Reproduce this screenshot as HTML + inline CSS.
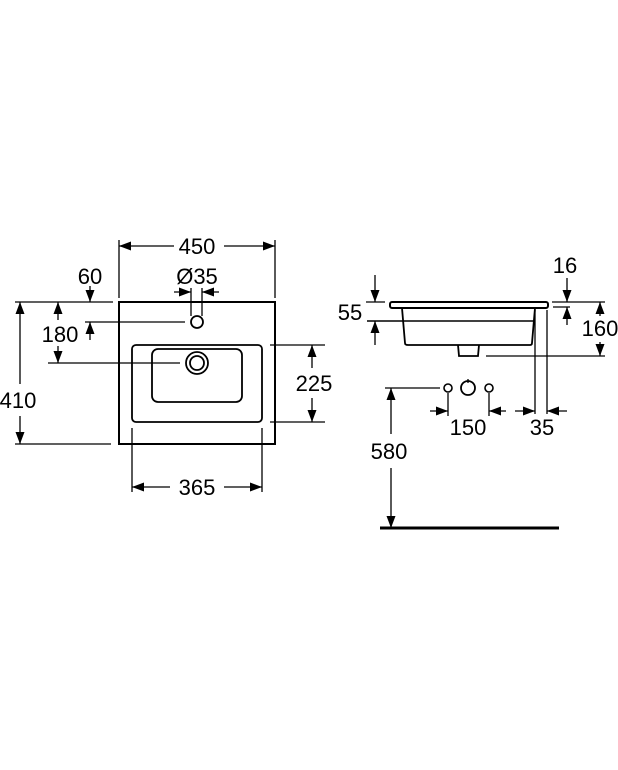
<!DOCTYPE html>
<html><head><meta charset="utf-8"><style>html,body{margin:0;padding:0;background:#fff}svg{display:block}</style></head>
<body>
<svg width="618" height="770" viewBox="0 0 618 770" xmlns="http://www.w3.org/2000/svg" font-family="Liberation Sans, sans-serif" font-size="22" text-anchor="middle">
<defs>
<marker id="a" markerWidth="12" markerHeight="9" refX="12" refY="4.5" orient="auto" markerUnits="userSpaceOnUse"><path d="M0,0 L12,4.5 L0,9 Z" fill="#000"/></marker>
</defs>
<g stroke="#000" fill="none" stroke-width="1.3">
<rect x="119" y="302" width="156" height="142" stroke-width="2"/>
<rect x="132" y="345" width="130" height="77" rx="4" stroke-width="1.8"/>
<rect x="152" y="349" width="90" height="53" rx="6" stroke-width="1.8"/>
<circle cx="197" cy="363" r="11" stroke-width="1.8"/>
<circle cx="197" cy="363" r="7" stroke-width="1.8"/>
<circle cx="197" cy="322" r="6" stroke-width="1.8"/>
<line x1="191" y1="288" x2="191" y2="316"/><line x1="202" y1="288" x2="202" y2="316"/>
<line x1="174" y1="292" x2="191" y2="292" marker-end="url(#a)"/>
<line x1="219" y1="292" x2="202" y2="292" marker-end="url(#a)"/>
<line x1="119" y1="240" x2="119" y2="298"/><line x1="275" y1="240" x2="275" y2="298"/>
<line x1="174" y1="246" x2="119" y2="246" marker-end="url(#a)"/>
<line x1="224" y1="246" x2="275" y2="246" marker-end="url(#a)"/>
<line x1="15" y1="302" x2="113" y2="302"/>
<line x1="90" y1="286" x2="90" y2="302" marker-end="url(#a)"/>
<line x1="85" y1="322" x2="185" y2="322"/>
<line x1="90" y1="340" x2="90" y2="322" marker-end="url(#a)"/>
<line x1="48" y1="363" x2="180" y2="363"/>
<line x1="58" y1="320" x2="58" y2="302" marker-end="url(#a)"/>
<line x1="58" y1="346" x2="58" y2="363" marker-end="url(#a)"/>
<line x1="15" y1="444" x2="111" y2="444"/>
<line x1="20" y1="384" x2="20" y2="302" marker-end="url(#a)"/>
<line x1="20" y1="416" x2="20" y2="444" marker-end="url(#a)"/>
<line x1="270" y1="345" x2="325" y2="345"/><line x1="270" y1="422" x2="325" y2="422"/>
<line x1="312" y1="368" x2="312" y2="345" marker-end="url(#a)"/>
<line x1="312" y1="398" x2="312" y2="422" marker-end="url(#a)"/>
<line x1="132" y1="428" x2="132" y2="492"/><line x1="262" y1="428" x2="262" y2="492"/>
<line x1="170" y1="487" x2="132" y2="487" marker-end="url(#a)"/>
<line x1="224" y1="487" x2="262" y2="487" marker-end="url(#a)"/>
<rect x="390" y="302" width="158" height="6" rx="2" stroke-width="2"/>
<path d="M402,308 L405,343 Q405,345 408,345 L530,345 Q532,345 532,343 L535,308" stroke-width="1.8"/>
<line x1="367" y1="321" x2="534" y2="321" stroke-width="1.5"/>
<path d="M458,345 L459,356 L478,356 L479,345" stroke-width="1.8"/>
<line x1="366" y1="302" x2="385" y2="302"/>
<line x1="375" y1="275" x2="375" y2="302" marker-end="url(#a)"/>
<line x1="375" y1="345" x2="375" y2="321" marker-end="url(#a)"/>
<line x1="552" y1="302" x2="605" y2="302"/><line x1="553" y1="307" x2="570" y2="307"/>
<line x1="567" y1="278" x2="567" y2="302" marker-end="url(#a)"/>
<line x1="567" y1="325" x2="567" y2="307" marker-end="url(#a)"/>
<line x1="486" y1="356" x2="605" y2="356"/>
<line x1="600" y1="316" x2="600" y2="302" marker-end="url(#a)"/>
<line x1="600" y1="342" x2="600" y2="356" marker-end="url(#a)"/>
<line x1="535" y1="310" x2="535" y2="414"/><line x1="547" y1="310" x2="547" y2="414"/>
<line x1="515" y1="411" x2="535" y2="411" marker-end="url(#a)"/>
<line x1="567" y1="411" x2="547" y2="411" marker-end="url(#a)"/>
<circle cx="448" cy="388" r="4" stroke-width="1.6"/>
<circle cx="468" cy="388" r="7" stroke-width="1.8"/>
<circle cx="489" cy="388" r="4" stroke-width="1.6"/>
<line x1="468" y1="379" x2="468" y2="383"/>
<line x1="385" y1="388" x2="440" y2="388"/>
<line x1="448" y1="393" x2="448" y2="416"/><line x1="489" y1="393" x2="489" y2="416"/>
<line x1="430" y1="411" x2="448" y2="411" marker-end="url(#a)"/>
<line x1="506" y1="411" x2="489" y2="411" marker-end="url(#a)"/>
<line x1="391" y1="434" x2="391" y2="388" marker-end="url(#a)"/>
<line x1="391" y1="468" x2="391" y2="528" marker-end="url(#a)"/>
<line x1="380" y1="528" x2="559" y2="528" stroke-width="3"/>
</g>
<g fill="#000">
<text x="197" y="254">450</text>
<text x="197" y="284">Ø35</text>
<text x="90" y="284">60</text>
<text x="60" y="342">180</text>
<text x="18" y="408">410</text>
<text x="314" y="391">225</text>
<text x="197" y="495">365</text>
<text x="350" y="320">55</text>
<text x="565" y="273">16</text>
<text x="600" y="336">160</text>
<text x="468" y="435">150</text>
<text x="542" y="435">35</text>
<text x="389" y="459">580</text>
</g>
</svg>
</body></html>
